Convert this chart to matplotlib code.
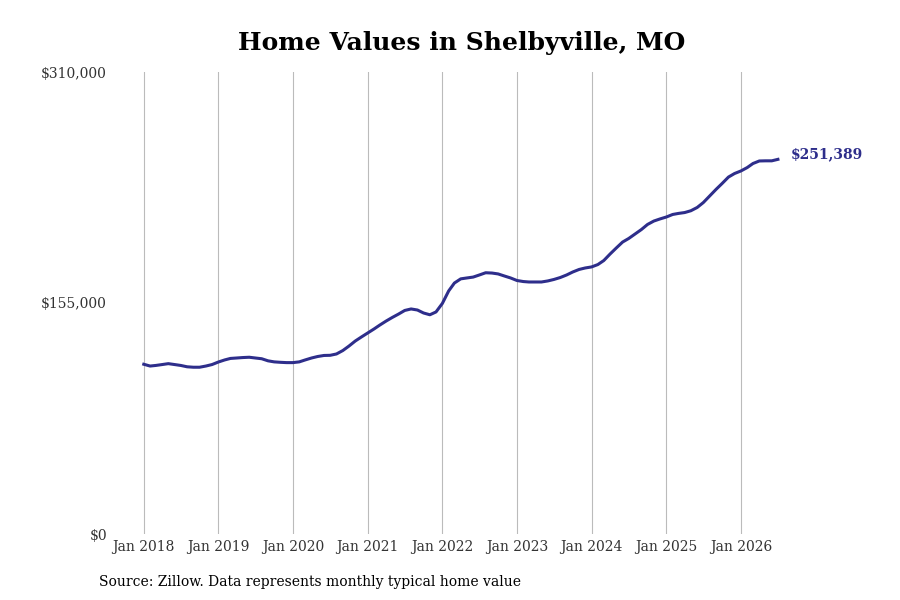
import numpy as np
import pandas as pd
import matplotlib
matplotlib.use('Agg')
import matplotlib.pyplot as plt
import matplotlib.dates as mdates
from matplotlib.ticker import FuncFormatter

# valori mensili stimati dal grafico, Gen 2018 - Lug 2026
valori = [
    113900, 112700, 113100, 113700, 114300, 113700, 113100, 112200, 111900, 111900,
    112700, 113700, 115400, 116800, 117800, 118100, 118400, 118600, 118100, 117600,
    116200, 115500, 115200, 115000, 115000, 115500, 116800, 118100, 119100, 119800,
    119900, 120800, 123100, 126100, 129500, 132200, 134900, 137600, 140200, 142900,
    145300, 147600, 150000, 151000, 150300, 148300, 147100, 149000, 154700, 163100,
    168400, 171200, 171800, 172400, 173800, 175300, 175100, 174500, 173100, 171800,
    170100, 169400, 169100, 169100, 169100, 169800, 170800, 172100, 173800, 175800,
    177500, 178500, 179200, 180800, 183500, 187900, 191900, 195900, 198300, 201300,
    204300, 207700, 210000, 211400, 212700, 214400, 215100, 215700, 216900, 219100,
    222400, 226800, 231200, 235200, 239500, 241900, 243600, 245900, 248600, 250300,
    250400, 250400, 251389,
]
date = pd.date_range('2018-01-01', periods=len(valori), freq='MS')
titolo = 'Home Values in Shelbyville, MO'
fonte = 'Source: Zillow. Data represents monthly typical home value'
y_ticks = [0, 155000, 310000]
colore = '#2e2e8b'

plt.rcParams['font.family'] = 'DejaVu Serif'

fig = plt.figure(figsize=(9, 6), dpi=100)
ax = fig.add_axes([0.125, 0.11, 0.775, 0.77])

ax.plot(date, valori, color=colore, linewidth=2.2)
ax.set_xlim(pd.Timestamp('2017-08-01'), pd.Timestamp('2026-12-05'))
ax.set_ylim(0, 310000)

ax.xaxis.set_major_locator(mdates.YearLocator())
ax.xaxis.set_major_formatter(mdates.DateFormatter('Jan %Y'))
ax.set_yticks(y_ticks)
ax.yaxis.set_major_formatter(FuncFormatter(lambda v, p: '${:,.0f}'.format(v)))

ax.grid(axis='x', color='#bbbbbb', linewidth=0.8)
ax.grid(axis='y', visible=False)
for s in ax.spines.values():
    s.set_visible(False)
ax.tick_params(length=0, labelsize=10, colors='#333333')
ax.tick_params(axis='x', pad=4)
ax.tick_params(axis='y', pad=4)

ax.annotate('${:,.0f}'.format(valori[-1]), xy=(date[-1], valori[-1]),
            xytext=(9.5, 4), textcoords='offset points', color=colore,
            fontsize=10, fontweight='bold', va='center', ha='left')

fig.text(0.5128, 0.928, titolo, ha='center', va='center', fontsize=18, fontweight='bold')
fig.text(0.11, 0.03, fonte, ha='left', va='center', fontsize=10)

fig.savefig('out.png', dpi=100)
